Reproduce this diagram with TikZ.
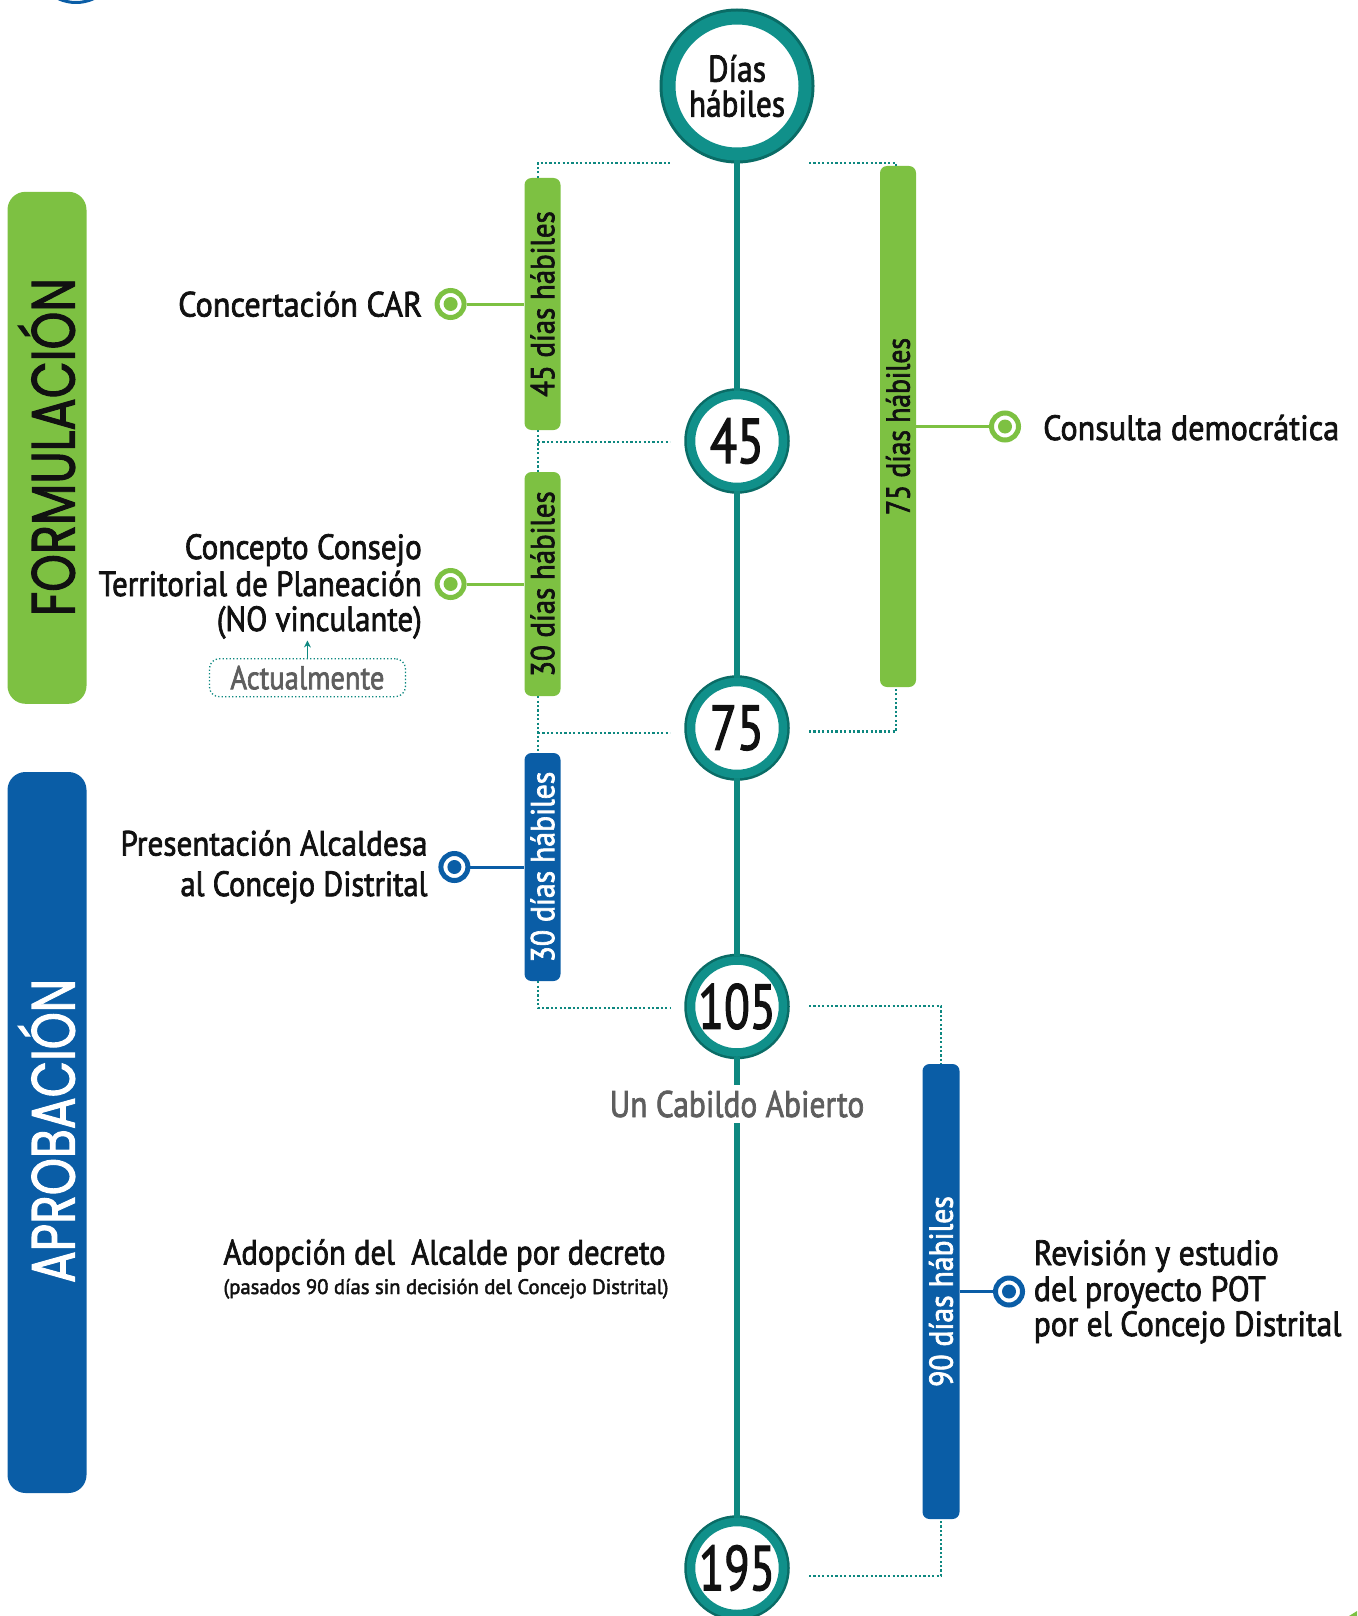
\documentclass[tikz,border=0pt]{standalone}
\usepackage{fontspec}
\setmainfont{PT Sans}[FakeBold=2.2]
\newfontfamily\geofont{Poppins}[FakeBold=2]
\usetikzlibrary{arrows.meta}
\definecolor{gr}{HTML}{7DC142}
\definecolor{bl}{HTML}{0A5DA6}
\definecolor{tl}{HTML}{0E8880}
\definecolor{tlr}{HTML}{10908A}
\definecolor{tld}{HTML}{0A6C66}
\definecolor{ink}{HTML}{111111}
\definecolor{gy}{HTML}{5E5E5E}
\newcommand\fitw[2]{\resizebox{#1}{\height}{#2}}
\begin{document}
\begin{tikzpicture}[x=1pt,y=-1pt,
  lbl/.style={inner sep=0pt, text=ink, font=\fontsize{35}{35}\selectfont},
  num/.style={circle, preaction={draw=tld, line width=13.5pt}, draw=tlr, line width=8.5pt, fill=white, minimum size=92pt, inner sep=0pt, text=ink, font=\fontsize{63}{63}\selectfont},
  timebar/.style={rounded corners=7pt, inner sep=0pt, minimum width=36pt, font=\fontsize{33}{33}\selectfont},
  gbar/.style={timebar, fill=gr, text=ink},
  bbar/.style={timebar, fill=bl, text=white},
  sideband/.style={rounded corners=18pt, minimum width=79pt, inner sep=0pt},
  dotline/.style={tl, line width=2.2pt, dash pattern=on 2.2pt off 2.2pt},
  tline/.style={tl, line width=6pt},
  ringmark/.style={circle, draw=#1, fill=white, line width=5pt, minimum size=27pt, inner sep=0pt,
    path picture={\fill[#1] (path picture bounding box.center) circle[radius=7pt];}},
  con/.style={#1, line width=3pt},
  bandtext/.style={rotate=90, anchor=base, inner sep=0pt, font=\geofont\fontsize{61}{61}\selectfont},
]
\useasboundingbox (0,0) rectangle (1357,1616);
\clip (0,0) rectangle (1357,1616);

% corner fragments
\draw[bl, line width=3pt] (76,-40) circle[radius=42.5pt];
\fill[gr] (1349,1616) -- (1357,1611) -- (1357,1616) -- cycle;

% side bands
\node[sideband, fill=gr, minimum height=512pt] (fband) at (47,447.8) {};
\node[bandtext, text=ink] (ftext) at (74.6,447) {\fitw{338pt}{FORMULACIÓN}};
\node[sideband, fill=bl, minimum height=721pt] (aband) at (47,1132.5) {};
\node[bandtext, text=white] (atext) at (74.6,1131) {\fitw{304pt}{APROBACIÓN}};

% bars
\node[gbar, minimum height=252pt] (b45) at (542.5,304) {\rotatebox{90}{\fitw{185.5pt}{45 días hábiles}}};
\node[gbar, minimum height=224pt] (b30g) at (542.5,584) {\rotatebox{90}{\fitw{185.4pt}{30 días hábiles}}};
\node[bbar, minimum height=228pt] (b30b) at (542.5,867) {\rotatebox{90}{\fitw{190.6pt}{30 días hábiles}}};
\node[gbar, minimum height=521pt] (b75) at (898,426.5) {\rotatebox{90}{\fitw{177pt}{75 días hábiles}}};
\node[bbar, minimum width=37pt, minimum height=455pt] (b90) at (941,1291.5) {\rotatebox{90}{\fitw{190.6pt}{90 días hábiles}}};

% circles
\node[num, minimum size=136pt, preaction={draw=tld, line width=19pt}, line width=13pt, font=\fontsize{37}{35}\selectfont, align=center] (dias) at (737,86) {\fitw{58pt}{Días}\\\fitw{96pt}{hábiles}};
\node[num] (c45) at (737,441) {\fitw{54pt}{45}};
\node[num] (c75) at (737,728) {\fitw{54pt}{75}};
\node[num] (c105) at (737,1006.5) {\fitw{77.5pt}{105}};
\node[num] (c195) at (737,1568) {\fitw{76pt}{195}};
\node[inner xsep=2pt, inner ysep=5.5pt, text=gy, font=\fontsize{37}{37}\selectfont, anchor=base] (cab) at (737,1117) {\fitw{254.5pt}{Un Cabildo Abierto}};

% markers
\node[ringmark=gr] (m1) at (450.6,304) {};
\node[ringmark=gr] (m2) at (450.6,584) {};
\node[ringmark=bl] (m3) at (454.4,867) {};
\node[ringmark=gr] (m4) at (1005,426.5) {};
\node[ringmark=bl] (m5) at (1009,1291.5) {};

% labels
\node[lbl, anchor=base east] (t1) at (422.4,316.5) {\fitw{244pt}{Concertación CAR}};
\node[lbl, anchor=base east] (t2a) at (422,559) {\fitw{237pt}{Concepto Consejo}};
\node[lbl, anchor=base east] (t2b) at (422,596) {\fitw{323pt}{Territorial de Planeación}};
\node[lbl, anchor=base east] (t2c) at (422,631) {\fitw{205pt}{(NO vinculante)}};
\node[lbl, anchor=base east] (t3a) at (427.7,855.5) {\fitw{307pt}{Presentación Alcaldesa}};
\node[lbl, anchor=base east] (t3b) at (427.7,896) {\fitw{247pt}{al Concejo Distrital}};
\node[lbl, anchor=base west] (t4) at (1043,440) {\fitw{296pt}{Consulta democrática}};
\node[lbl, anchor=base west] (t5a) at (1033.6,1265) {\fitw{245pt}{Revisión y estudio}};
\node[lbl, anchor=base west] (t5b) at (1033.6,1301) {\fitw{232pt}{del proyecto POT}};
\node[lbl, anchor=base west] (t5c) at (1033.6,1336) {\fitw{307.6pt}{por el Concejo Distrital}};
\node[lbl, anchor=base west] (t6a) at (223.3,1264.5) {\fitw{442pt}{Adopción del\ \ Alcalde por decreto}};
\node[lbl, anchor=base west, font=\fontsize{21}{21}\selectfont] (t6b) at (223.3,1294) {\fitw{445pt}{(pasados 90 días sin decisión del Concejo Distrital)}};

% Actualmente box
\node[draw=tl, line width=1.3pt, dash pattern=on 1.3pt off 2.2pt, rounded corners=10pt, minimum width=196pt, minimum height=38pt, inner sep=0pt, text=gy, font=\fontsize{33}{33}\selectfont] (act) at (307.4,677.7) {\fitw{154pt}{Actualmente}};
\coordinate (arrtip) at (307.4,640.5);
\draw[tl, line width=1.5pt, -{Stealth[length=7pt,width=7pt]}] (act.north) -- (arrtip);

% central line
\draw[tline] (dias) -- (c45);
\draw[tline] (c45) -- (c75);
\draw[tline] (c75) -- (c105);
\draw[tline] (c105) -- (cab);
\draw[tline] (cab) -- (c195);

% dotted brackets
\coordinate (d1a) at (538,162.8); \coordinate (d1b) at (670,162.8);
\coordinate (d2a) at (538,442);   \coordinate (d2b) at (670,442);
\coordinate (d3a) at (538,733);   \coordinate (d3b) at (670,733);
\coordinate (d4a) at (538,1008);  \coordinate (d4b) at (670,1008);
\coordinate (r1a) at (809,162.8); \coordinate (r1b) at (896,162.8);
\coordinate (r2a) at (809,731.5); \coordinate (r2b) at (896,731.5);
\coordinate (r3a) at (809,1006);  \coordinate (r3b) at (941,1006);
\coordinate (r4a) at (809,1576);  \coordinate (r4b) at (941,1576);
\draw[dotline] (d1a |- b45.north) -- (d1a) -- (d1b);
\draw[dotline] (d2a |- b45.south) -- (d2a |- b30g.north);
\draw[dotline] (d2a) -- (d2b);
\draw[dotline] (d3a |- b30g.south) -- (d3a |- b30b.north);
\draw[dotline] (d3a) -- (d3b);
\draw[dotline] (d4a |- b30b.south) -- (d4a) -- (d4b);
\draw[dotline] (r1a) -- (r1b) -- (r1b |- b75.north);
\draw[dotline] (r2a) -- (r2b) -- (r2b |- b75.south);
\draw[dotline] (r3a) -- (r3b) -- (r3b |- b90.north);
\draw[dotline] (r4a) -- (r4b) -- (r4b |- b90.south);

% marker connectors
\draw[con=gr] (m1) -- (b45);
\draw[con=gr] (m2) -- (b30g);
\draw[con=bl] (m3) -- (b30b);
\draw[con=gr] (b75) -- (m4);
\draw[con=bl] (b90) -- (m5);
\end{tikzpicture}
\end{document}
